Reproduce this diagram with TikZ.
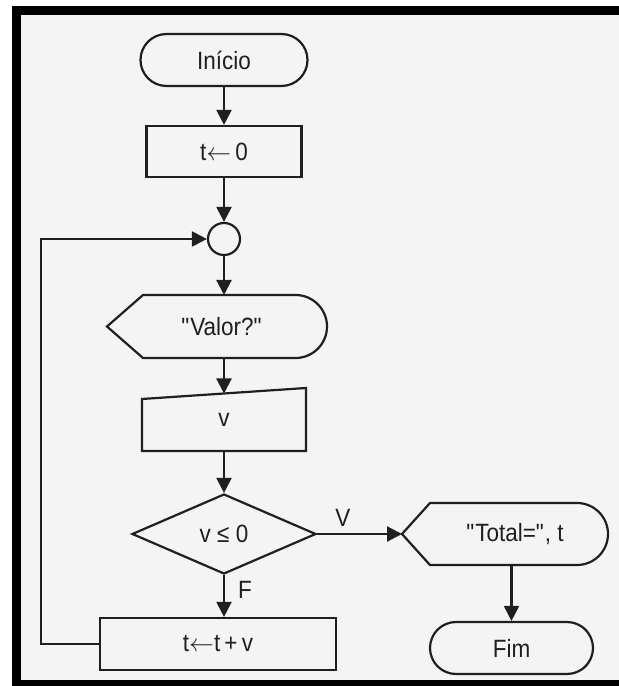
\documentclass[tikz,border=0pt]{standalone}
\usepackage{fontspec}
\setmainfont{Liberation Sans}[FakeStretch=0.9]
\usetikzlibrary{shapes.misc,shapes.geometric,arrows.meta,calc}
\definecolor{ink}{gray}{0.12}
\definecolor{paper}{gray}{0.955}
\newcommand{\assignarrow}{\ensuremath{\leftarrow}}
\begin{document}
\begin{tikzpicture}[x=1pt,y=1pt,
  line/.style={line width=2.2pt, draw=ink, line join=miter},
  flow/.style={line, -{Triangle[width=15pt,length=15pt]}},
  lbl/.style={font=\fontsize{25}{29}\selectfont, text=ink},
  term/.style={rounded rectangle, line, lbl, minimum width=#1, minimum height=52pt, inner sep=0pt},
  procbox/.style={rectangle, line, lbl, minimum width=#1, inner sep=0pt},
  shell/.style={rectangle, lbl, minimum width=#1, inner sep=0pt, outer sep=0pt},
  junction/.style={circle, line, minimum size=32pt, inner sep=0pt},
  decision/.style={diamond, line, lbl, minimum width=184pt, minimum height=80pt, inner sep=0pt}
]
% page, frame and paper
\path[use as bounding box] (0,0) rectangle (619,686);
\fill[white] (0,0) rectangle (619,686);
\fill[black] (12,0) rectangle (619,680);
\fill[paper] (21,6) rectangle (619,671);

% nodes of the main column
\node[term=167pt] (inicio) at (224,626) {Início};
\node[procbox=155pt, minimum height=51pt] (t0) at (224,534.5) {t\assignarrow\,0};
\node[junction] (junc) at (224,447) {};
\node[shell=220pt, minimum height=63pt,
      label={[lbl, xshift=5pt]center:{\textquotedbl Valor?\textquotedbl}}] (valor) at (217,359.5) {};
\node[shell=164pt, minimum height=63pt] (vin) at (224,266.5) {v};
\node[decision] (dec) at (224,152) {v ≤ 0};
\node[procbox=236pt, minimum height=52pt] (soma) at (218,42) {t\assignarrow t\,+\,v};

% right branch
\node[shell=206pt, minimum height=62pt,
      label={[lbl, xshift=10pt]center:{\textquotedbl Total=\textquotedbl, t}}] (tot) at (505,152) {};
\node[term=163pt] (fim) at (511.5,38) {Fim};

% display outlines (pointed left side, round right end)
\draw[line] (valor.west) -- ($(valor.north west)+(36,0)$)
  -- ($(valor.north east)+(-31.5,0)$) arc[start angle=90,end angle=-90,radius=31.5]
  -- ($(valor.south west)+(36,0)$) -- cycle;
\draw[line] (tot.west) -- ($(tot.north west)+(28,0)$)
  -- ($(tot.north east)+(-31,0)$) arc[start angle=90,end angle=-90,radius=31]
  -- ($(tot.south west)+(28,0)$) -- cycle;

% manual input outline (sloped top)
\coordinate (vinTL) at ($(vin.north west)+(0,-11)$);
\coordinate (vinT) at ($(vinTL)!0.5!(vin.north east)$);
\draw[line] (vin.south west) -- (vin.south east) -- (vin.north east) -- (vinTL) -- cycle;

% connectors
\draw[flow] (inicio.south) -- (t0.north);
\draw[flow] (t0.south) -- (junc.north);
\draw[flow] (junc.south) -- (junc.south |- valor.north);
\draw[flow] (vin.north |- valor.south) -- (vinT);
\draw[flow] (vin.south) -- (dec.north);
\draw[flow] (dec.south) -- (dec.south |- soma.north);
\draw[flow] (dec.east) -- (tot.west);
\draw[flow] (fim.north |- tot.south) -- (fim.north);
\draw[flow] (soma.west) -- ++(-58,0) |- (junc.west);

% branch labels
\node[lbl] (vlab) at (343,168) {V};
\node[lbl] (flab) at (245,96) {F};
\end{tikzpicture}
\end{document}
